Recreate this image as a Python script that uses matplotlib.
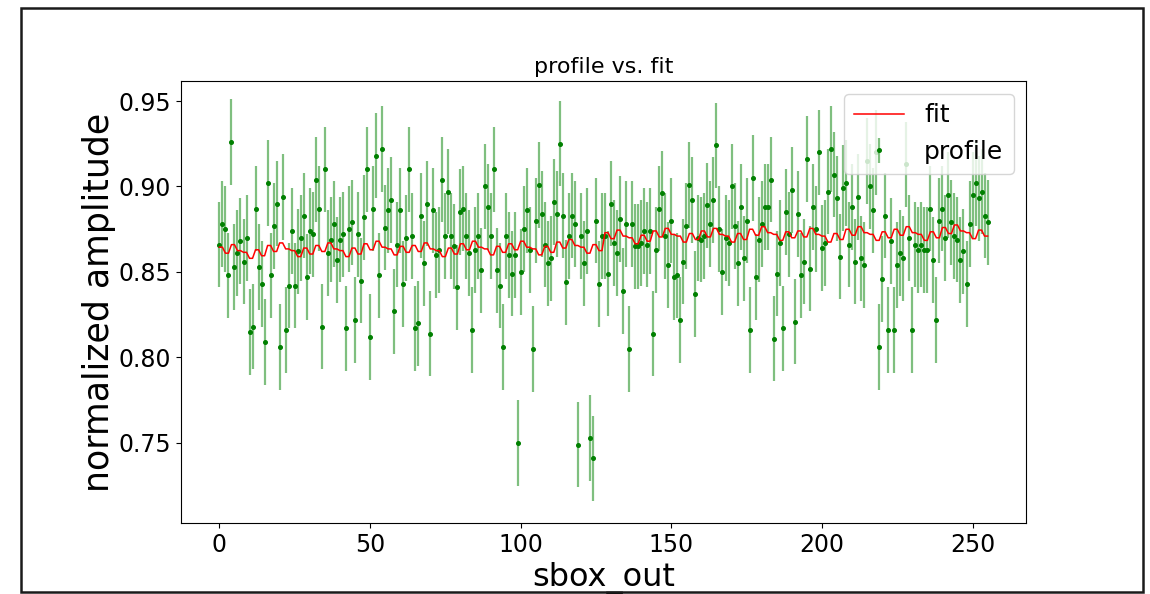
import numpy as np
import matplotlib
matplotlib.use("Agg")
import matplotlib.pyplot as plt
from matplotlib.patches import Rectangle

# measured normalized amplitude per S-box output value (0..255)
profile = [
    0.866, 0.878, 0.875, 0.848, 0.926, 0.853, 0.861, 0.868, 0.856, 0.870, 0.815, 0.818, 0.887, 0.853, 0.843, 0.809,
    0.902, 0.848, 0.877, 0.890, 0.806, 0.894, 0.816, 0.842, 0.874, 0.842, 0.862, 0.870, 0.883, 0.847, 0.874, 0.872,
    0.904, 0.887, 0.818, 0.910, 0.861, 0.869, 0.878, 0.857, 0.869, 0.872, 0.817, 0.875, 0.879, 0.822, 0.872, 0.845,
    0.882, 0.910, 0.812, 0.887, 0.918, 0.848, 0.922, 0.876, 0.886, 0.892, 0.827, 0.866, 0.886, 0.843, 0.870, 0.910,
    0.871, 0.817, 0.820, 0.883, 0.855, 0.890, 0.814, 0.886, 0.860, 0.863, 0.904, 0.871, 0.897, 0.871, 0.865, 0.841,
    0.885, 0.887, 0.871, 0.861, 0.816, 0.863, 0.871, 0.851, 0.900, 0.888, 0.871, 0.910, 0.851, 0.842, 0.806, 0.871,
    0.860, 0.849, 0.860, 0.750, 0.850, 0.875, 0.886, 0.863, 0.805, 0.880, 0.901, 0.884, 0.866, 0.855, 0.858, 0.891,
    0.884, 0.925, 0.883, 0.844, 0.871, 0.883, 0.878, 0.749, 0.871, 0.855, 0.874, 0.753, 0.741, 0.880, 0.843, 0.871,
    0.871, 0.849, 0.890, 0.867, 0.861, 0.881, 0.839, 0.878, 0.805, 0.878, 0.865, 0.865, 0.867, 0.874, 0.866, 0.874,
    0.814, 0.863, 0.887, 0.896, 0.871, 0.854, 0.880, 0.847, 0.848, 0.822, 0.856, 0.877, 0.901, 0.892, 0.837, 0.870,
    0.869, 0.871, 0.889, 0.878, 0.892, 0.924, 0.875, 0.850, 0.870, 0.867, 0.900, 0.877, 0.855, 0.888, 0.858, 0.880,
    0.816, 0.905, 0.847, 0.869, 0.878, 0.888, 0.888, 0.904, 0.811, 0.849, 0.867, 0.817, 0.885, 0.872, 0.898, 0.821,
    0.884, 0.848, 0.856, 0.916, 0.852, 0.888, 0.875, 0.920, 0.864, 0.867, 0.897, 0.922, 0.907, 0.893, 0.859, 0.899,
    0.902, 0.866, 0.888, 0.856, 0.894, 0.858, 0.854, 0.915, 0.900, 0.886, 0.920, 0.806, 0.846, 0.883, 0.816, 0.868,
    0.816, 0.854, 0.861, 0.858, 0.913, 0.870, 0.816, 0.866, 0.863, 0.866, 0.863, 0.863, 0.887, 0.857, 0.822, 0.880,
    0.887, 0.870, 0.895, 0.879, 0.871, 0.869, 0.857, 0.862, 0.843, 0.878, 0.895, 0.902, 0.893, 0.897, 0.883, 0.879,
]
profile_err = 0.025

# linear bit model of the fit: intercept + weight per output bit (LSB first)
fit_intercept = 0.8645
fit_bit_weights = [0.0, -0.0035, 0.0015, -0.003, 0.001, 0.001, 0.001, 0.0085]

sbox_out = np.arange(len(profile))
bits = (sbox_out[:, None] >> np.arange(8)[None, :]) & 1
fit = fit_intercept + bits @ np.array(fit_bit_weights)

fig = plt.figure(figsize=(11.5, 5.94), dpi=100)
ax = fig.add_axes([181 / 1150, 71 / 594, (1026 - 181) / 1150, (523 - 81) / 594])

ax.errorbar(sbox_out, profile, yerr=profile_err, fmt="o", color="green",
            markersize=2.6, ecolor=(0.0, 0.5, 0.0, 0.5), elinewidth=1.6,
            label="profile", zorder=2)
ax.plot(sbox_out, fit, color="red", linewidth=1.1, label="fit", zorder=3)

ax.set_xlim(-12.75, 267.75)
ax.set_ylim(0.7032, 0.9617)
ax.set_xticks([0, 50, 100, 150, 200, 250])
ax.set_yticks([0.75, 0.80, 0.85, 0.90, 0.95])
ax.tick_params(labelsize=17)
ax.set_xlabel("sbox_out", fontsize=23)
ax.set_ylabel("normalized amplitude", fontsize=25, labelpad=2)
ax.set_title("profile vs. fit", fontsize=16)
ax.legend(loc="upper right", fontsize=18)

# outer frame around the whole figure
fig.add_artist(Rectangle((20.5 / 1150, 2.5 / 594), (1143 - 20.5) / 1150, (589 - 5) / 594,
                         transform=fig.transFigure, fill=False, linewidth=1.8,
                         edgecolor="#1a1a1a"))

fig.savefig("out.png", dpi=100)
